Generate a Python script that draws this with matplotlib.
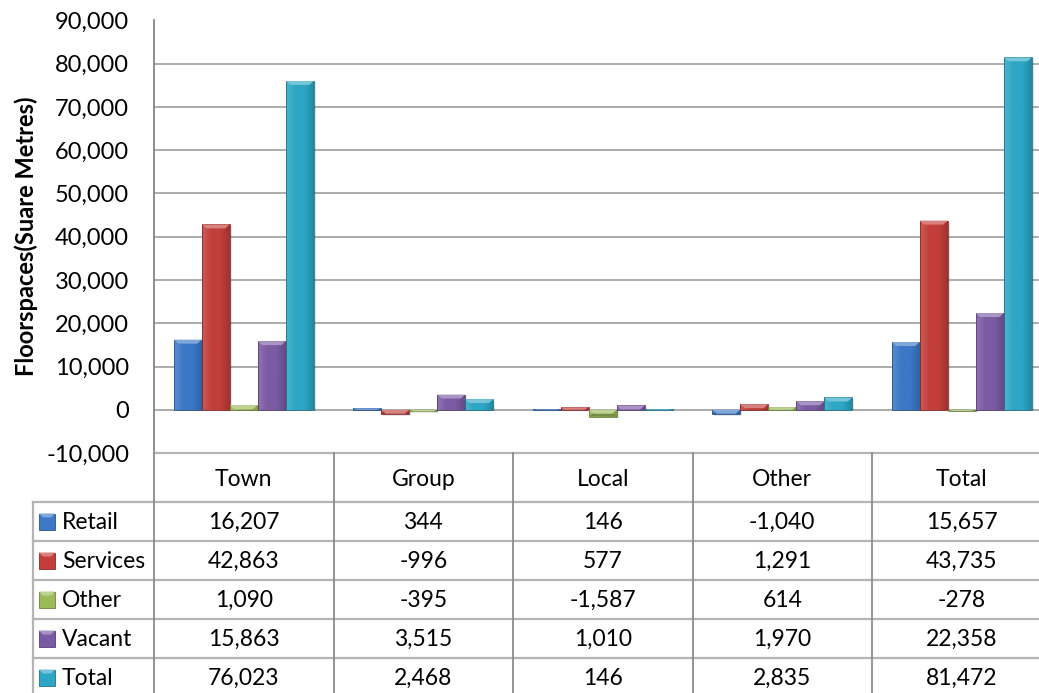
import matplotlib
matplotlib.use("Agg")
import matplotlib.pyplot as plt
import numpy as np
from matplotlib.patches import Rectangle, Polygon
from matplotlib.ticker import FuncFormatter

categories = ["Town", "Group", "Local", "Other", "Total"]
series_names = ["Retail", "Services", "Other", "Vacant", "Total"]
retail = [16207, 344, 146, -1040, 15657]
services = [42863, -996, 577, 1291, 43735]
other = [1090, -395, -1587, 614, -278]
vacant = [15863, 3515, 1010, 1970, 22358]
total = [76023, 2468, 146, 2835, 81472]
series_values = [retail, services, other, vacant, total]
colors = ["#3B78C6", "#C23E3A", "#9BBB59", "#7A5BA3", "#2CA6C4"]
y_ticks = list(range(-10000, 90001, 10000))

plt.rcParams['font.family'] = ['Lato', 'DejaVu Sans']

W, H = 1039, 693
fig = plt.figure(figsize=(W / 100, H / 100), dpi=100)

# plot area (extends past right edge, as in the cropped reference)
left_px, right_px, top_px, bot_px = 154, 1051.5, 20.5, 453
ax = fig.add_axes([left_px / W, (H - bot_px) / H, (right_px - left_px) / W, (bot_px - top_px) / H])
ax.set_xlim(-0.5, 4.5)
ax.set_ylim(-10000, 90000)
ax.set_yticks(y_ticks)
ax.yaxis.set_major_formatter(FuncFormatter(lambda v, p: f"{int(v):,}"))
ax.tick_params(axis='y', length=0, labelsize=17, pad=18, labelcolor="#000000")
ax.set_xticks([])
for s in ["top", "right", "bottom"]:
    ax.spines[s].set_visible(False)
ax.spines["left"].set_color("#868686")
ax.spines["left"].set_linewidth(1.3)
ax.grid(axis='y', color="#A6A6A6", linewidth=1.3)
ax.set_axisbelow(True)
ax.set_ylabel("Floorspaces(Suare Metres)", fontsize=17, fontweight='bold', labelpad=6)

def shade(c, f):
    c = np.array(matplotlib.colors.to_rgb(c))
    if f >= 0:
        return tuple(c + (1 - c) * f)
    return tuple(c * (1 + f))

bw = 28 / 179.5
px_y = 100000 / (bot_px - top_px)   # data units per pixel
x_idx = np.arange(len(categories))
for i, (vals, col) in enumerate(zip(series_values, colors)):
    xs = x_idx + (i - 2) * bw
    for x, v in zip(xs, vals):
        x0 = x - bw / 2
        y0, y1 = min(0, v), max(0, v)
        h = y1 - y0
        # shadow
        ax.add_patch(Rectangle((x0 + 0.012, y0 - 1.5 * px_y), bw, h, facecolor="#000000",
                               alpha=0.10, edgecolor="none", zorder=2))
        # body with horizontal gradient
        grad = np.linspace(0, 1, 40)
        cmap = matplotlib.colors.LinearSegmentedColormap.from_list(
            "g", [shade(col, 0.15), col, col, shade(col, -0.18)])
        im = ax.imshow(grad[None, :], cmap=cmap, aspect='auto',
                       extent=(x0, x0 + bw, y0, y1), zorder=3, interpolation='bilinear')
        r = Rectangle((x0, y0), bw, h, facecolor="none", edgecolor=shade(col, -0.3),
                      linewidth=0.6, zorder=4)
        ax.add_patch(r)
        im.set_clip_path(r)
        # bevel at top
        bev = min(4 * px_y, h)
        dx = min(0.025, bw / 4)
        if v >= 0:
            ax.add_patch(Polygon([(x0, y1), (x0 + bw, y1), (x0 + bw - dx, y1 - bev), (x0 + dx, y1 - bev)],
                                 closed=True, facecolor=shade(col, 0.35), edgecolor="none", zorder=4))
        else:
            ax.add_patch(Polygon([(x0, y0), (x0 + bw, y0), (x0 + bw - dx, y0 + bev), (x0 + dx, y0 + bev)],
                                 closed=True, facecolor=shade(col, -0.25), edgecolor="none", zorder=4))
            ax.add_patch(Polygon([(x0, y1), (x0 + bw, y1), (x0 + bw - dx, y1 - bev), (x0 + dx, y1 - bev)],
                                 closed=True, facecolor=shade(col, 0.35), edgecolor="none", zorder=4))

# data table
tab_left_px = 33
hdr_h, row_h = 49, 39
tab_h = hdr_h + row_h * len(series_names)
tax = fig.add_axes([tab_left_px / W, (H - bot_px - tab_h) / H, (right_px - tab_left_px) / W, tab_h / H])
unit = 179.5
tax.set_xlim(-0.5 - (left_px - tab_left_px) / unit, 4.5)
tax.set_ylim(tab_h, 0)
tax.axis('off')
lc_h, lc_v = "#B4B4B4", "#8C8C8C"
xl = -0.5 - (left_px - tab_left_px) / unit
# horizontal lines
tax.plot([-0.5, 4.5], [0, 0], color=lc_h, lw=1.6, clip_on=False)
for k in range(len(series_names) + 1):
    yy = hdr_h + k * row_h
    tax.plot([xl, 4.5], [yy, yy], color=lc_h, lw=1.6, clip_on=False)
# vertical lines
tax.plot([-0.5, -0.5], [0, tab_h], color=lc_v, lw=1.3, clip_on=False)
for b in np.arange(0.5, 4.5, 1.0):
    tax.plot([b, b], [0, tab_h], color=lc_v, lw=1.3, clip_on=False)
tax.plot([xl, xl], [hdr_h, tab_h], color=lc_h, lw=1.6, clip_on=False)

fs = 16.5
for j, c in enumerate(categories):
    tax.text(j, hdr_h / 2 + 2, c, ha='center', va='center', fontsize=fs)
for i, (name, vals, col) in enumerate(zip(series_names, series_values, colors)):
    yc = hdr_h + i * row_h + row_h / 2
    ks = 16 / unit
    kx = xl + 6 / unit
    tax.add_patch(Rectangle((kx, yc - 8), ks, 16, facecolor=col, edgecolor=shade(col, -0.3), lw=0.6))
    tax.add_patch(Polygon([(kx, yc - 8), (kx + ks, yc - 8), (kx + ks * 0.75, yc - 4), (kx + ks * 0.25, yc - 4)],
                          facecolor=shade(col, 0.35), edgecolor="none"))
    tax.text(kx + 23 / unit, yc + 1, name, ha='left', va='center', fontsize=fs)
    for j, v in enumerate(vals):
        tax.text(j, yc + 1, f"{v:,}", ha='center', va='center', fontsize=fs)

fig.savefig("out.png", dpi=100)
